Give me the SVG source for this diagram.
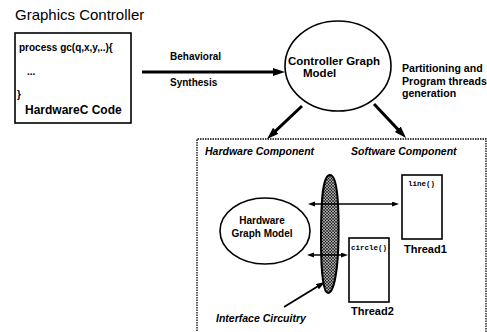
<svg xmlns="http://www.w3.org/2000/svg" width="487" height="332" viewBox="0 0 487 332">
  <style>
    .lbl { font-family: "Liberation Sans", Arial, sans-serif; font-weight: bold; fill: #000; }
    .plain { font-family: "Liberation Sans", Arial, sans-serif; font-weight: normal; fill: #000; }
    .ital { font-family: "Liberation Sans", Arial, sans-serif; font-weight: bold; font-style: italic; fill: #000; }
    .mono { font-family: "Liberation Mono", "Courier New", monospace; font-weight: bold; fill: #000; }
    .shape { fill: #fff; stroke: #000; stroke-width: 1.6; }
    .thick { stroke: #000; stroke-width: 3; fill: none; }
    .thin { stroke: #000; stroke-width: 1.3; fill: none; }
  </style>
  <defs>
    <marker id="bigHead" markerUnits="userSpaceOnUse" markerWidth="13" markerHeight="9" refX="6" refY="4" orient="auto">
      <path d="M0,0 L12,4 L0,8 z" fill="#000"/>
    </marker>
    <marker id="midHead" markerUnits="userSpaceOnUse" markerWidth="10" markerHeight="7" refX="4.5" refY="3" orient="auto">
      <path d="M0,0 L9,3 L0,6 z" fill="#000"/>
    </marker>
    <marker id="smallHead" markerUnits="userSpaceOnUse" markerWidth="8" markerHeight="6" refX="3.5" refY="2.5" orient="auto-start-reverse">
      <path d="M0,0 L7,2.5 L0,5 z" fill="#000"/>
    </marker>
    <!-- dotted mesh fill of the interface region -->
    <pattern id="mesh" width="3" height="3" patternUnits="userSpaceOnUse">
      <rect width="3" height="3" fill="#fff"/>
      <circle cx="0" cy="0" r="0.9" fill="#000"/>
      <circle cx="3" cy="0" r="0.9" fill="#000"/>
      <circle cx="0" cy="3" r="0.9" fill="#000"/>
      <circle cx="3" cy="3" r="0.9" fill="#000"/>
      <circle cx="1.5" cy="1.5" r="0.9" fill="#000"/>
    </pattern>
  </defs>

  <rect width="487" height="332" fill="#fff"/>

  <text class="plain" x="15" y="20" font-size="15">Graphics Controller</text>

  <!-- HardwareC source box -->
  <g id="hardwarec-code">
    <rect class="shape" x="15" y="33" width="116" height="90"/>
    <text class="lbl" x="19" y="51" font-size="10">process gc(q,x,y,..){</text>
    <text class="lbl" x="27" y="75" font-size="10">...</text>
    <text class="lbl" x="17" y="98" font-size="10">}</text>
    <text class="lbl" x="25" y="114" font-size="12">HardwareC Code</text>
  </g>

  <!-- labels of the synthesis step -->
  <text class="lbl" x="170" y="60" font-size="10">Behavioral</text>
  <text class="lbl" x="170" y="86" font-size="10">Synthesis</text>

  <!-- controller graph -->
  <g id="controller-graph">
    <ellipse class="shape" cx="338" cy="66" rx="53" ry="45"/>
    <text class="lbl" x="288" y="65" font-size="11.5">Controller Graph</text>
    <text class="lbl" x="303" y="77" font-size="11.5">Model</text>
  </g>

  <text class="lbl" x="402" y="72" font-size="10.6">Partitioning and</text>
  <text class="lbl" x="402" y="85" font-size="10.6">Program threads</text>
  <text class="lbl" x="402" y="97" font-size="10.6">generation</text>

  <!-- partitioned system -->
  <g id="partitioned-system">
    <path d="M197,336 V139 H486 V336" fill="none" stroke="#000" stroke-width="1.3" stroke-dasharray="1.5 1"/>
    <text class="ital" x="205" y="155" font-size="10.5">Hardware Component</text>
    <text class="ital" x="351" y="155" font-size="10.5">Software Component</text>
  </g>

  <g id="hardware-graph">
    <ellipse class="shape" cx="265" cy="231" rx="45" ry="33"/>
    <text class="lbl" x="262" y="224" font-size="10" text-anchor="middle">Hardware</text>
    <text class="lbl" x="262" y="237" font-size="10" text-anchor="middle">Graph Model</text>
  </g>

  <g id="interface-circuitry">
    <path d="M330,175 C338,175 339,210 338.5,240 C338,270 334,293 328,293 C323,293 321,268 321,240 C321,205 322,175 330,175 Z" fill="url(#mesh)" stroke="#000" stroke-width="2"/>
    <text class="ital" x="216" y="322" font-size="10.5">Interface Circuitry</text>
  </g>

  <g id="thread1">
    <rect class="shape" x="402" y="175" width="40" height="64"/>
    <text class="mono" x="408" y="186" font-size="7.5">line()</text>
    <text class="lbl" x="404" y="253" font-size="11">Thread1</text>
  </g>

  <g id="thread2">
    <rect class="shape" x="349" y="238" width="40" height="64"/>
    <text class="mono" x="351" y="250" font-size="7.5">circle()</text>
    <text class="lbl" x="351" y="315" font-size="11">Thread2</text>
  </g>

  <!-- connectors -->
  <g id="connectors">
    <line class="thick" x1="142" y1="72" x2="279" y2="72" marker-end="url(#bigHead)"/>
    <line class="thick" x1="302" y1="106" x2="271.4" y2="134.9" marker-end="url(#bigHead)"/>
    <line class="thick" x1="374" y1="104" x2="401.9" y2="133.6" marker-end="url(#bigHead)"/>
    <line class="thin" x1="311.5" y1="204" x2="395.5" y2="204" marker-start="url(#smallHead)" marker-end="url(#smallHead)"/>
    <line class="thin" x1="310.5" y1="255" x2="344.5" y2="255" marker-start="url(#smallHead)" marker-end="url(#smallHead)"/>
    <line stroke="#000" stroke-width="1.8" x1="284" y1="307" x2="321.2" y2="284.3" marker-end="url(#midHead)"/>
  </g>
</svg>
